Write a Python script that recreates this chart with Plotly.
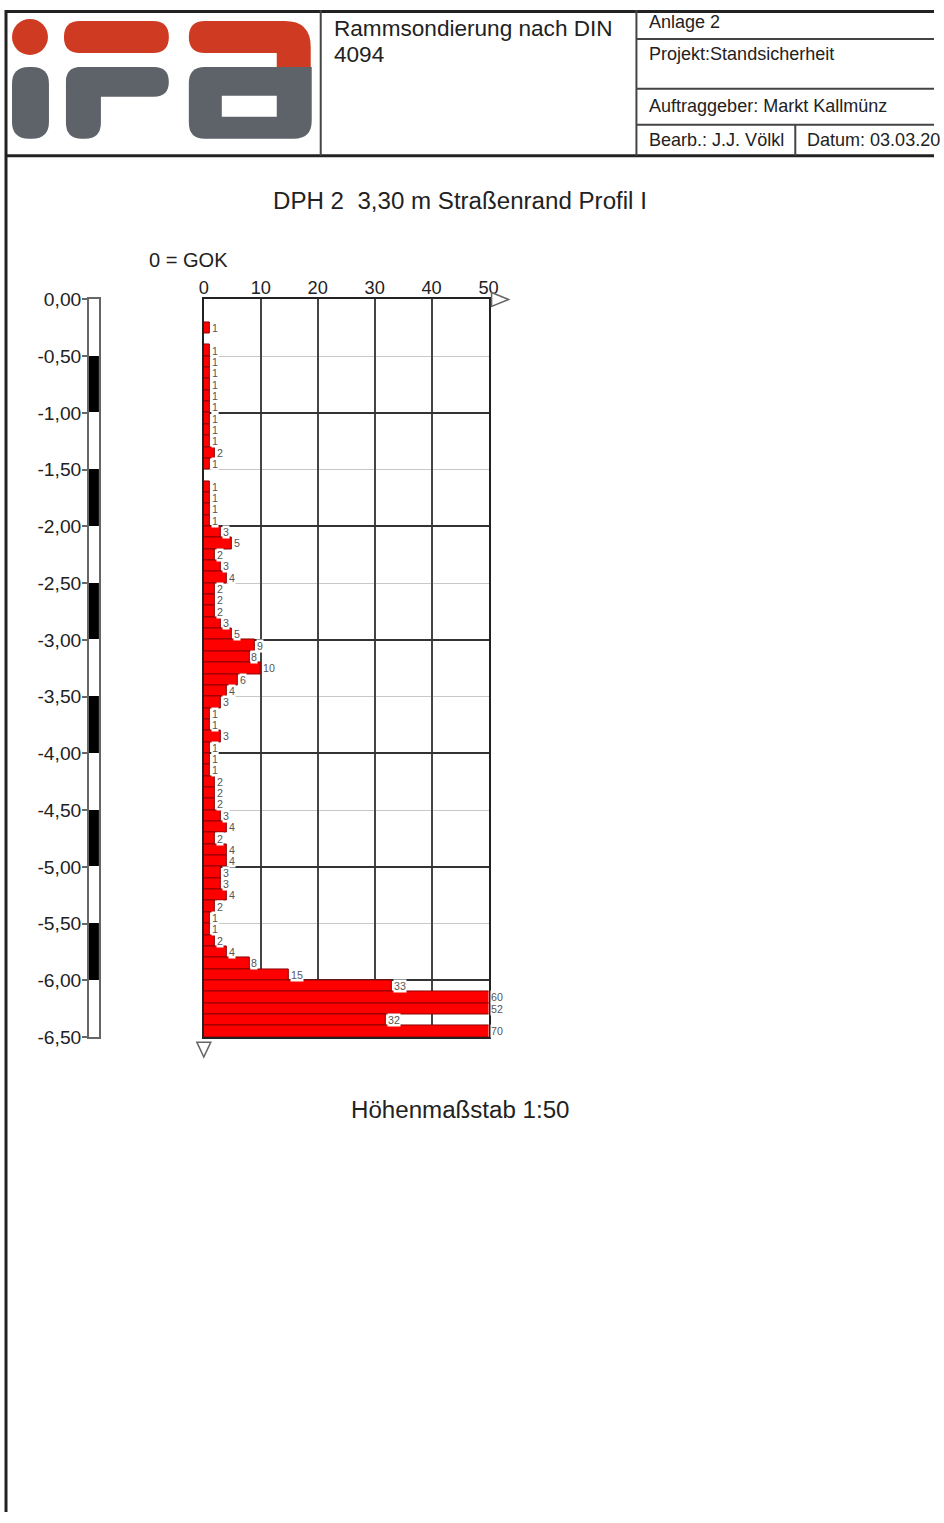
import plotly.graph_objects as go

W, H = 944, 1523

# ---------------- data ----------------
depth_from = [0.2, 0.4, 0.5, 0.6, 0.7, 0.8, 0.9, 1.0, 1.1, 1.2, 1.3, 1.4,
              1.6, 1.7, 1.8, 1.9, 2.0, 2.1, 2.2, 2.3, 2.4, 2.5, 2.6, 2.7, 2.8, 2.9,
              3.0, 3.1, 3.2, 3.3, 3.4, 3.5, 3.6, 3.7, 3.8, 3.9, 4.0, 4.1, 4.2, 4.3,
              4.4, 4.5, 4.6, 4.7, 4.8, 4.9, 5.0, 5.1, 5.2, 5.3, 5.4, 5.5, 5.6, 5.7,
              5.8, 5.9, 6.0, 6.1, 6.2, 6.3, 6.4]
blows = [1, 1, 1, 1, 1, 1, 1, 1, 1, 1, 2, 1,
         1, 1, 1, 1, 3, 5, 2, 3, 4, 2, 2, 2, 3, 5,
         9, 8, 10, 6, 4, 3, 1, 1, 3, 1, 1, 1, 2, 2,
         2, 3, 4, 2, 4, 4, 3, 3, 4, 2, 1, 1, 2, 4,
         8, 15, 33, 60, 52, 32, 70]
x_ticks = [0, 10, 20, 30, 40, 50]
depth_ticks = [0, -0.5, -1, -1.5, -2, -2.5, -3, -3.5, -4, -4.5, -5, -5.5, -6, -6.5]
depth_tick_text = ["0,00", "-0,50", "-1,00", "-1,50", "-2,00", "-2,50", "-3,00",
                   "-3,50", "-4,00", "-4,50", "-5,00", "-5,50", "-6,00", "-6,50"]
ruler_black_top = [-0.5, -1.5, -2.5, -3.5, -4.5, -5.5]
step = 0.1
x_max = 50
depth_min = -6.5

FONT = "Liberation Sans, Arial, sans-serif"

# layout placement (page pixels), compensated for the photographed frame
OX, OY, SX, SY = 6.0, 9.0, 0.985, 0.988
FS = 1 / 0.987


def fx(x):
    return min(max((x - OX) / SX, 0), W)


def fy(y):
    return min(max((y - OY) / SY, 0), H)


def px(x):
    return fx(x) / W


def py(y):
    return 1 - fy(y) / H


def rrect(x0, y0, x1, y1, r):
    return (f"M {px(x0 + r)},{py(y0)} L {px(x1 - r)},{py(y0)} "
            f"Q {px(x1)},{py(y0)} {px(x1)},{py(y0 + r)} "
            f"L {px(x1)},{py(y1 - r)} Q {px(x1)},{py(y1)} {px(x1 - r)},{py(y1)} "
            f"L {px(x0 + r)},{py(y1)} Q {px(x0)},{py(y1)} {px(x0)},{py(y1 - r)} "
            f"L {px(x0)},{py(y0 + r)} Q {px(x0)},{py(y0)} {px(x0 + r)},{py(y0)} Z")


def poly(pts, closed=True):
    s = "M " + " L ".join(f"{px(a)},{py(b)}" for a, b in pts)
    return s + (" Z" if closed else "")


fig = go.Figure()

# penetration blows per 10 cm
fig.add_trace(go.Bar(
    x=blows, y=[-(d + step / 2) for d in depth_from], orientation="h",
    width=step, marker=dict(color="#ff0000", line=dict(color="#8a0000", width=1)),
    xaxis="x", yaxis="y", showlegend=False, hoverinfo="skip"))

# depth ruler
fig.add_trace(go.Bar(
    x=[0.5] * len(ruler_black_top), y=[0.5] * len(ruler_black_top),
    base=[t - 0.5 for t in ruler_black_top], width=1.0,
    marker=dict(color="black", line=dict(width=0)),
    xaxis="x2", yaxis="y2", showlegend=False, hoverinfo="skip"))

plot_x0, plot_x1 = 205, 490
plot_y0, plot_y1 = 299, 1038
ydom = [py(plot_y1), py(plot_y0)]

annotations = []
for d, v in zip(depth_from, blows):
    annotations.append(dict(
        x=min(v, x_max), y=-(d + step / 2), xref="x", yref="y",
        text=str(v), showarrow=False, xanchor="left", yanchor="middle",
        xshift=1, font=dict(family=FONT, size=10.5 * FS, color="#555"),
        bgcolor="white", borderpad=0))


def txt(x, y, s, size, anchor="left", color="#222"):
    annotations.append(dict(x=px(x), y=py(y), xref="paper", yref="paper",
                            text=s, showarrow=False, xanchor=anchor,
                            yanchor="middle",
                            font=dict(family=FONT, size=size * FS, color=color)))


txt(333, 28, "Rammsondierung nach DIN", 22.3)
txt(333, 54, "4094", 22.3)
txt(649, 21, "Anlage 2", 17.8)
txt(649, 53, "Projekt:Standsicherheit", 17.8)
txt(649, 105, "Auftraggeber: Markt Kallmünz", 17.8)
txt(649, 139, "Bearb.: J.J. Völkl", 17.8)
txt(807, 139, "Datum: 03.03.20", 17.8)
txt(461, 200, "DPH 2\u00a0\u00a03,30 m Straßenrand Profil I", 23.8, anchor="center")
txt(148, 259, "0 = GOK", 19.8)
txt(461, 1110, "Höhenmaßstab 1:50", 23.8, anchor="center")

shapes = []
LINE = "#444"
# page frame
shapes.append(dict(type="line", xref="paper", yref="paper", x0=px(7), x1=px(7),
                   y0=py(4), y1=py(1530), line=dict(color="#222", width=3)))
shapes.append(dict(type="line", xref="paper", yref="paper", x0=px(6), x1=px(960),
                   y0=1 - 1.5 / H, y1=1 - 1.5 / H, line=dict(color="#222", width=3)))
shapes.append(dict(type="line", xref="paper", yref="paper", x0=px(6), x1=px(960),
                   y0=py(155), y1=py(155), line=dict(color="#222", width=3)))
for xx in (322, 638):
    shapes.append(dict(type="line", xref="paper", yref="paper", x0=px(xx), x1=px(xx),
                       y0=py(5), y1=py(155), line=dict(color=LINE, width=2)))
for yy in (38, 88, 124):
    shapes.append(dict(type="line", xref="paper", yref="paper", x0=px(638), x1=px(960),
                       y0=py(yy), y1=py(yy), line=dict(color=LINE, width=2)))
shapes.append(dict(type="line", xref="paper", yref="paper", x0=px(797), x1=px(797),
                   y0=py(124), y1=py(155), line=dict(color=LINE, width=2)))

# logo
RED = "#cf3b22"
GRAY = "#5d6368"
shapes.append(dict(type="circle", xref="paper", yref="paper", x0=px(13), x1=px(49),
                   y0=py(18), y1=py(54), fillcolor=RED, line=dict(width=0)))
shapes.append(dict(type="path", xref="paper", yref="paper", path=rrect(65, 20, 170, 52, 16),
                   fillcolor=RED, line=dict(width=0)))
shapes.append(dict(type="path", xref="paper", yref="paper",
                   path=(f"M {px(206)},{py(20)} L {px(286)},{py(20)} "
                         f"Q {px(312)},{py(20)} {px(312)},{py(46)} "
                         f"L {px(312)},{py(66)} L {px(278)},{py(66)} L {px(278)},{py(52)} "
                         f"L {px(206)},{py(52)} Q {px(190)},{py(52)} {px(190)},{py(36)} "
                         f"Q {px(190)},{py(20)} {px(206)},{py(20)} Z"),
                   fillcolor=RED, line=dict(width=0)))
shapes.append(dict(type="path", xref="paper", yref="paper", path=rrect(13, 66, 50, 138, 17),
                   fillcolor=GRAY, line=dict(width=0)))
shapes.append(dict(type="path", xref="paper", yref="paper", path=rrect(67, 66, 102, 138, 16),
                   fillcolor=GRAY, line=dict(width=0)))
shapes.append(dict(type="path", xref="paper", yref="paper", path=rrect(67, 66, 170, 96, 15),
                   fillcolor=GRAY, line=dict(width=0)))
shapes.append(dict(type="path", xref="paper", yref="paper",
                   path=(f"M {px(190)},{py(82)} Q {px(190)},{py(66)} {px(206)},{py(66)} "
                         f"L {px(313)},{py(66)} L {px(313)},{py(120)} "
                         f"Q {px(313)},{py(138)} {px(295)},{py(138)} "
                         f"L {px(206)},{py(138)} Q {px(190)},{py(138)} {px(190)},{py(122)} Z"),
                   fillcolor=GRAY, line=dict(width=0)))
shapes.append(dict(type="rect", xref="paper", yref="paper", x0=px(223), x1=px(278),
                   y0=py(95), y1=py(116), fillcolor="white", line=dict(width=0)))

# axis arrows (hollow triangles)
shapes.append(dict(type="path", xref="paper", yref="paper",
                   path=poly([(493, 292), (510, 299), (493, 306)]),
                   line=dict(color="#666", width=1.5), fillcolor="white"))
shapes.append(dict(type="path", xref="paper", yref="paper",
                   path=poly([(198, 1043), (212, 1043), (205, 1058)]),
                   line=dict(color="#666", width=1.5), fillcolor="white"))

fig.update_layout(
    width=W, height=H, autosize=False,
    margin=dict(l=0, r=0, t=0, b=0),
    paper_bgcolor="white", plot_bgcolor="white",
    showlegend=False, bargap=0,
    annotations=annotations, shapes=shapes,
    xaxis=dict(domain=[px(plot_x0), px(plot_x1)], range=[0, x_max], side="top",
               tickvals=x_ticks, ticks="", showgrid=True, gridcolor="#444", gridwidth=1.5,
               zeroline=False, showline=True, mirror=True, linecolor="#222", linewidth=2,
               tickfont=dict(family=FONT, size=18 * FS, color="#222"), anchor="y",
               ticklabelstandoff=-4, fixedrange=True),
    yaxis=dict(domain=ydom, range=[depth_min, 0], dtick=1, tick0=0,
               showticklabels=False, ticks="", showgrid=True, gridcolor="#333",
               gridwidth=1.5, zeroline=False, showline=True, mirror=True,
               linecolor="#222", linewidth=2, anchor="x",
               minor=dict(dtick=0.5, tick0=0, showgrid=True, gridcolor="#c8c8c8",
                          gridwidth=1),
               fixedrange=True),
    xaxis2=dict(domain=[px(90), px(100)], range=[0, 1], showticklabels=False,
                showgrid=False, zeroline=False, showline=True, mirror=True,
                linecolor="#666", linewidth=1.5, anchor="y2", fixedrange=True),
    yaxis2=dict(domain=ydom, range=[depth_min, 0], tickvals=depth_ticks,
                ticktext=depth_tick_text, ticks="outside", ticklen=5, tickcolor="#666",
                tickwidth=1.5, showgrid=False, zeroline=False, showline=True, mirror=True,
                linecolor="#666", linewidth=1.5, anchor="x2", ticklabelstandoff=-3,
                tickfont=dict(family=FONT, size=19 * FS, color="#222"), fixedrange=True),
)

css_js = (
    "var s=document.createElement('style');"
    "s.textContent='html,body{margin:0!important;padding:0!important;overflow:hidden;}"
    ".plotly-graph-div{position:absolute!important;left:0;top:0;}';"
    "document.head.appendChild(s);"
)
fig.write_html("out.html", config={"displayModeBar": False}, post_script=css_js)
